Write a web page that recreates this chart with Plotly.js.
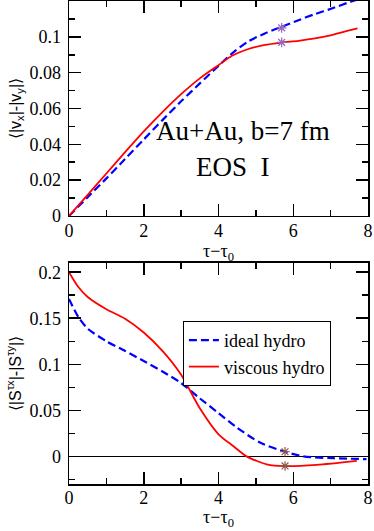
<!DOCTYPE html>
<html>
<head>
<meta charset="utf-8">
<script src="https://cdn.plot.ly/plotly-3.0.1.min.js"></script>
<style>
  html, body { margin: 0; padding: 0; background: #fff; }
  #grafico { width: 374px; height: 531px; }
</style>
</head>
<body>
<div id="grafico"></div>
<script>
// painel de cima: <|vx|-|vy|>
const tIdealTop = [0, 0.5, 1, 1.5, 2, 2.5, 3, 3.5, 4, 4.35, 4.8, 5.24, 5.69, 6.14, 6.58, 7.03, 7.52, 8];
const vIdealTop = [0, 0.0105, 0.021, 0.0318, 0.0427, 0.0535, 0.064, 0.074, 0.0838, 0.0905, 0.0975, 0.1019, 0.1056, 0.1093, 0.1127, 0.1158, 0.1195, 0.1225];
const tViscTop = [0, 0.5, 1, 1.5, 2, 2.5, 3, 3.5, 4, 4.35, 4.8, 5.24, 5.69, 6.14, 6.58, 7.03, 7.47, 7.72];
const vViscTop = [0, 0.0118, 0.0237, 0.0356, 0.0472, 0.058, 0.068, 0.0768, 0.0842, 0.0893, 0.0932, 0.0955, 0.0968, 0.0978, 0.0991, 0.101, 0.1034, 0.1047];
const tStarTop = [5.69, 5.69];
const vStarTop = [0.105, 0.0969];

// painel de baixo: <|S^tx|-|S^ty|>
const tIdealBot = [0, 0.25, 0.5, 1, 1.5, 2, 2.5, 3, 3.5, 4, 4.5, 5.11, 5.78, 6.27, 7.07, 7.96];
const sIdealBot = [0.171, 0.1513, 0.1387, 0.125, 0.1145, 0.1035, 0.0922, 0.0796, 0.063, 0.047, 0.031, 0.015, 0.005, 0.0, -0.002, -0.003];
const tViscBot = [0, 0.25, 0.5, 1, 1.5, 2, 2.5, 3, 3.5, 4, 4.4, 4.75, 5.29, 5.78, 6.63, 7.7];
const sViscBot = [0.2, 0.1839, 0.1731, 0.1598, 0.1495, 0.1345, 0.1145, 0.0886, 0.0522, 0.024, 0.011, 0, -0.0086, -0.0106, -0.0093, -0.005];
const tStarBot = [5.78, 5.78];
const sStarBot = [0.005, -0.0104];

const nomes = ['ideal hydro', 'viscous hydro'];

const serif = 'Liberation Serif';
const sans = 'Liberation Sans';
const azul = '#0000ff';
const vermelho = '#ff0000';

function linha(x, y, eixoX, eixoY, cor, tracejado, nome, legenda) {
  return {
    type: 'scatter',
    mode: 'lines',
    x: x,
    y: y,
    xaxis: eixoX,
    yaxis: eixoY,
    name: nome,
    showlegend: legenda,
    line: { color: cor, width: tracejado ? 2.2 : 1.8, dash: tracejado ? '8px,4px' : 'solid', shape: 'spline', smoothing: 0.7 },
    hoverinfo: 'skip'
  };
}

function estrelas(x, y, eixoX, eixoY) {
  return {
    type: 'scatter',
    mode: 'markers',
    x: x,
    y: y,
    xaxis: eixoX,
    yaxis: eixoY,
    showlegend: false,
    marker: { symbol: 'asterisk-open', size: 8, line: { color: '#111', width: 1.2 } },
    hoverinfo: 'skip'
  };
}

const traces = [
  linha(tIdealBot, sIdealBot, 'x2', 'y2', azul, true, nomes[0], true),
  linha(tViscBot, sViscBot, 'x2', 'y2', vermelho, false, nomes[1], true),
  linha(tIdealTop, vIdealTop, 'x', 'y', azul, true, nomes[0], false),
  linha(tViscTop, vViscTop, 'x', 'y', vermelho, false, nomes[1], false),
  estrelas(tStarTop, vStarTop, 'x', 'y'),
  estrelas(tStarBot, sStarBot, 'x2', 'y2')
];

function eixo(extra) {
  return Object.assign({
    showline: true,
    linecolor: 'black',
    linewidth: 1.5,
    mirror: 'allticks',
    ticks: 'inside',
    ticklen: 12,
    tickwidth: 1.5,
    tickcolor: 'black',
    showgrid: false,
    zeroline: false,
    tickfont: { family: serif, size: 18, color: 'black' },
    ticklabelstandoff: 3
  }, extra);
}

const menor = (d) => ({ dtick: d, ticklen: 6, tickwidth: 1.5, tickcolor: 'black', ticks: 'inside' });
const fonteTitulo = { family: serif, size: 18, color: 'black' };

const layout = {
  width: 374,
  height: 531,
  margin: { l: 69, r: 6, t: 1, b: 47 },
  font: { family: serif, color: 'black' },
  paper_bgcolor: 'white',
  plot_bgcolor: 'white',
  showlegend: true,
  legend: {
    x: 0.381, y: 0.3375, xanchor: 'left', yanchor: 'top',
    bordercolor: 'black', borderwidth: 1, bgcolor: 'white',
    font: { family: serif, size: 18, color: 'black' },
    tracegroupgap: 0, itemwidth: 30
  },
  xaxis: eixo({ domain: [0, 1], anchor: 'y', range: [0, 8], dtick: 2, tick0: 0,
    minor: menor(1), ticklabelstandoff: -2 }),
  yaxis: eixo({ domain: [0.5549, 1], anchor: 'x', range: [0, 0.12], dtick: 0.02, tick0: 0,
    minor: menor(0.01),
    title: { text: '⟨|v<sub>x</sub>|-|v<sub>y</sub>|⟩', font: { family: sans, size: 16, color: 'black' }, standoff: 4 } }),
  xaxis2: eixo({ domain: [0, 1], anchor: 'y2', range: [0, 8], dtick: 2, tick0: 0,
    minor: menor(1), ticklabelstandoff: -3 }),
  yaxis2: eixo({ domain: [0, 0.4576], anchor: 'x2', range: [-0.03, 0.21], dtick: 0.05, tick0: 0,
    zeroline: true, zerolinecolor: 'black', zerolinewidth: 1,
    minor: menor(0.025),
    title: { text: '⟨|S<sup>τx</sup>|-|S<sup>τy</sup>|⟩', font: { family: sans, size: 16, color: 'black' }, standoff: 4 } }),
  annotations: [
    { xref: 'x', yref: 'y', x: 4.66, y: 0.0474, text: 'Au+Au, b=7 fm', showarrow: false,
      font: { family: serif, size: 27, color: 'black' } },
    { xref: 'x', yref: 'y', x: 4.39, y: 0.0273, text: 'EOS  I', showarrow: false,
      font: { family: serif, size: 27, color: 'black' } },
    // titulos do eixo x
    { xref: 'paper', yref: 'paper', x: 0.5, y: 0.4803, yanchor: 'middle', text: 'τ−τ<sub>0</sub>',
      showarrow: false, font: fonteTitulo },
    { xref: 'paper', yref: 'paper', x: 0.5, y: -0.0704, yanchor: 'middle', text: 'τ−τ<sub>0</sub>',
      showarrow: false, font: fonteTitulo }
  ]
};

Plotly.newPlot('grafico', traces, layout, { staticPlot: true });
</script>
</body>
</html>
